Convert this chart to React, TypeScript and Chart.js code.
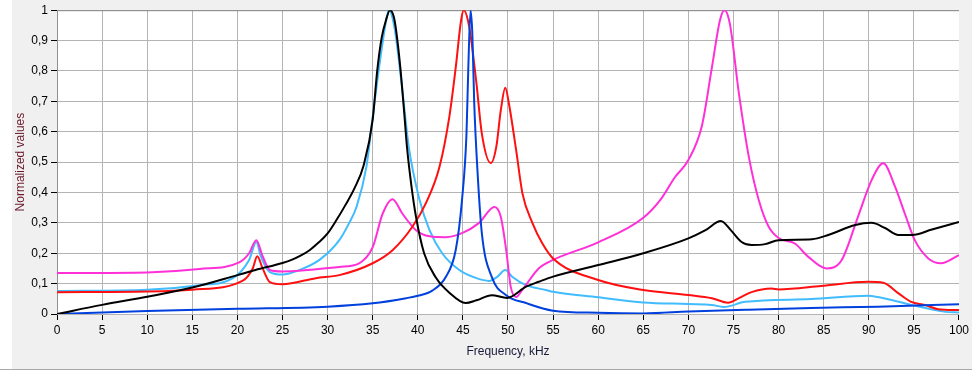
import React, { useEffect, useRef } from "react";
import { Chart, registerables } from "chart.js";

Chart.register(...registerables);

// Frequency (kHz) / normalized values per series
const blackF = [0, 5, 10, 15, 20, 22, 25, 26, 27, 28, 29, 30, 31, 32, 33, 34, 35, 35.5, 36, 36.5, 36.9, 37.4, 38, 38.5, 38.8, 39.3, 39.8, 40.7, 42, 43.5, 45.3, 46.5, 48.2, 49.9, 52, 53.4, 55, 60, 65, 70, 71.9, 73.6, 74.7, 75.9, 77, 78.5, 80, 83.7, 85.5, 88.5, 90.3, 91.8, 93.3, 94.8, 97, 100];
const blackV = [0, 0.03, 0.057, 0.087, 0.128, 0.145, 0.168, 0.178, 0.192, 0.21, 0.235, 0.265, 0.31, 0.36, 0.415, 0.49, 0.64, 0.8, 0.91, 0.97, 1.0, 0.97, 0.83, 0.66, 0.55, 0.42, 0.32, 0.2, 0.12, 0.07, 0.036, 0.045, 0.062, 0.053, 0.09, 0.106, 0.123, 0.161, 0.2, 0.249, 0.276, 0.306, 0.276, 0.237, 0.227, 0.23, 0.243, 0.246, 0.26, 0.293, 0.3, 0.283, 0.26, 0.26, 0.278, 0.303];

const blueF = [0, 10, 20, 30, 35, 38.7, 40, 41.6, 43.1, 44.2, 44.9, 45.4, 45.6, 45.85, 46.05, 46.25, 46.6, 47.1, 48.2, 49.8, 52, 55, 60, 65, 70, 76.3, 83.6, 91, 100];
const blueV = [0, 0.01, 0.017, 0.024, 0.035, 0.052, 0.06, 0.077, 0.122, 0.21, 0.375, 0.594, 0.81, 1.0, 0.92, 0.7, 0.48, 0.266, 0.122, 0.062, 0.036, 0.011, 0.004, 0.002, 0.008, 0.014, 0.02, 0.024, 0.032];

const redF = [0, 10, 15, 20.6, 21.7, 22.2, 22.8, 23.6, 25, 28.7, 31.3, 35, 37.2, 39.4, 40.9, 42.4, 43.5, 44.2, 44.8, 45.1, 45.7, 46.5, 47.1, 48.1, 48.7, 49.2, 49.7, 50.1, 50.9, 51.6, 52.7, 53.8, 55, 60, 65, 70, 72.6, 74.4, 75.6, 77, 79.2, 80, 84.7, 89.9, 91.6, 93.3, 94.7, 96.2, 97.7, 100];
const redV = [0.072, 0.074, 0.08, 0.11, 0.15, 0.19, 0.15, 0.105, 0.098, 0.118, 0.128, 0.167, 0.21, 0.287, 0.365, 0.484, 0.65, 0.81, 0.967, 1.0, 0.945, 0.76, 0.594, 0.497, 0.55, 0.67, 0.745, 0.693, 0.54, 0.397, 0.3, 0.233, 0.183, 0.112, 0.079, 0.0625, 0.052, 0.037, 0.052, 0.072, 0.084, 0.081, 0.092, 0.106, 0.103, 0.068, 0.04, 0.03, 0.016, 0.013];

const magentaF = [0, 10, 15.8, 20.2, 21.3, 22.1, 22.8, 23.6, 25, 31.3, 33.5, 35, 36.1, 37.2, 38.3, 39.8, 41.3, 43.1, 44.9, 46.8, 48.5, 49.2, 49.8, 50.3, 50.9, 51.6, 53.4, 55, 60, 65, 67, 68.5, 70, 71.5, 72.6, 73.5, 74, 74.6, 75.6, 76.7, 77.8, 78.9, 80, 81.8, 83.3, 85.3, 87, 88.8, 90.3, 91.6, 92.9, 94, 95.1, 96.6, 98, 100];
const magentaV = [0.135, 0.137, 0.148, 0.17, 0.2, 0.243, 0.19, 0.145, 0.14, 0.155, 0.167, 0.22, 0.33, 0.378, 0.33, 0.276, 0.256, 0.253, 0.266, 0.3, 0.352, 0.32, 0.21, 0.09, 0.056, 0.08, 0.15, 0.178, 0.236, 0.317, 0.38, 0.45, 0.507, 0.62, 0.81, 0.967, 1.0, 0.955, 0.726, 0.517, 0.375, 0.287, 0.25, 0.232, 0.188, 0.15, 0.178, 0.32, 0.44, 0.496, 0.42, 0.33, 0.243, 0.183, 0.167, 0.194];

const lightBlueF = [0, 10, 15.8, 19.5, 21.3, 22.1, 22.6, 23.6, 25, 26.9, 29.1, 31.3, 32.4, 33.2, 34.3, 35, 35.7, 36.5, 36.8, 37.4, 38.2, 39, 40.2, 41.3, 42.7, 44.6, 46.5, 47.9, 48.8, 49.7, 50.5, 52, 54.2, 55, 60, 65, 70, 72.6, 73.9, 76.3, 83.6, 89.9, 91, 94.7, 98.5, 100];
const lightBlueV = [0.076, 0.08, 0.095, 0.118, 0.178, 0.237, 0.19, 0.138, 0.13, 0.145, 0.178, 0.243, 0.3, 0.352, 0.484, 0.65, 0.81, 0.967, 1.0, 0.945, 0.76, 0.55, 0.375, 0.276, 0.2, 0.145, 0.118, 0.109, 0.122, 0.145, 0.122, 0.095, 0.079, 0.073, 0.055, 0.038, 0.033, 0.03, 0.023, 0.04, 0.049, 0.06, 0.056, 0.03, 0.007, 0.005];

const xTitle = "Frequency, kHz";
const yTitle = "Normalized values";

const toPts = (f: number[], v: number[]) => f.map((x, i) => ({ x, y: v[i] }));

const PLOT_LEFT = 57;
const PLOT_RIGHT = 961;
const PLOT_TOP = 10;
const PLOT_BOTTOM = 314;
const W = 972;
const H = 372;

const bgPlugin = {
  id: "bgPlugin",
  beforeDraw(chart: any) {
    const { ctx, chartArea } = chart;
    ctx.save();
    ctx.fillStyle = "#ffffff";
    ctx.fillRect(0, 0, W, H);
    ctx.fillStyle = "#f0f0f0";
    ctx.fillRect(12, 0, W - 12, 369);
    ctx.fillStyle = "#a8a8a8";
    ctx.fillRect(0, 369, W, 1);
    ctx.fillStyle = "#ffffff";
    ctx.fillRect(chartArea.left, chartArea.top, chartArea.right - chartArea.left, chartArea.bottom - chartArea.top);
    ctx.restore();
  },
  beforeDatasetsDraw(chart: any) {
    const { ctx, chartArea } = chart;
    ctx.save();
    ctx.strokeStyle = "#8a8a8a";
    ctx.lineWidth = 1;
    ctx.beginPath();
    ctx.moveTo(chartArea.left, chartArea.top + 0.5);
    ctx.lineTo(chartArea.right, chartArea.top + 0.5);
    ctx.stroke();
    ctx.restore();
  },
};

export default function App() {
  const ref = useRef<HTMLCanvasElement | null>(null);
  useEffect(() => {
    if (!ref.current) return;
    const mk = (label: string, f: number[], v: number[], color: string) => ({
      label,
      data: toPts(f, v),
      borderColor: color,
      backgroundColor: color,
      borderWidth: 2,
      pointRadius: 0,
      cubicInterpolationMode: "monotone" as const,
      fill: false,
    });
    const font = { family: "'Liberation Sans', Arial, sans-serif", size: 12 };
    const chart = new Chart(ref.current, {
      type: "line",
      data: {
        datasets: [
          mk("black", blackF, blackV, "#000000"),
          mk("blue", blueF, blueV, "#0040dd"),
          mk("red", redF, redV, "#ff0f0f"),
          mk("magenta", magentaF, magentaV, "#ff30d8"),
          mk("lightblue", lightBlueF, lightBlueV, "#40bcff"),
        ],
      },
      options: {
        responsive: false,
        animation: false,
        events: [],
        layout: { padding: { left: 0, right: W - PLOT_RIGHT, top: PLOT_TOP, bottom: 0 } },
        plugins: { legend: { display: false }, tooltip: { enabled: false } },
        scales: {
          x: {
            type: "linear",
            min: 0,
            max: 100,
            afterFit: (s: any) => { s.height = H - PLOT_BOTTOM; },
            ticks: { stepSize: 5, color: "#000000", font, padding: 3, maxRotation: 0, autoSkip: false },
            grid: {
              color: (c: any) => (c.tick && c.tick.value === 100 ? "rgba(0,0,0,0)" : "#b4b4b4"),
              tickColor: "#000000",
              tickLength: 6,
              lineWidth: 1,
            },
            border: { display: true, color: "#b4b4b4" },
            title: { display: true, text: xTitle, color: "#1a1a3a", font, padding: { top: 0, bottom: 13 } },
          },
          y: {
            type: "linear",
            min: 0,
            max: 1,
            afterFit: (s: any) => { s.width = PLOT_LEFT; },
            ticks: {
              stepSize: 0.1,
              color: "#000000",
              font,
              padding: 3,
              callback: (v: any) => {
                const n = Math.round(Number(v) * 10) / 10;
                if (n === 0) return "0";
                if (n === 1) return "1";
                return n.toFixed(1).replace(".", ",");
              },
            },
            grid: { color: "#b4b4b4", tickColor: "#000000", tickLength: 6, lineWidth: 1 },
            border: { display: true, color: "#909090" },
            title: { display: true, text: yTitle, color: "#6a1a2e", font, padding: { top: 13, bottom: 0 } },
          },
        },
      },
      plugins: [bgPlugin],
    });
    return () => chart.destroy();
  }, []);
  return (
    <div style={{ position: "fixed", left: 0, top: 0, width: W, height: H }}>
      <canvas ref={ref} width={W} height={H} style={{ display: "block", width: W, height: H }} />
    </div>
  );
}
